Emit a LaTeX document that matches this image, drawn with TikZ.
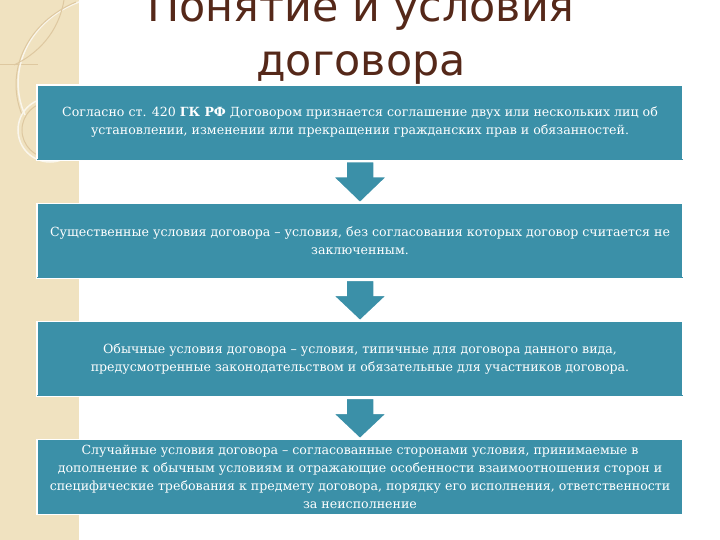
\documentclass[tikz,border=0pt]{standalone}
\usepackage{fontspec}
\setmainfont{DejaVu Serif}
\newfontfamily\titlefont{DejaVu Sans}
\usetikzlibrary{calc}
\definecolor{boxteal}{RGB}{59,144,168}
\definecolor{stripbeige}{RGB}{240,226,192}
\definecolor{decoline}{RGB}{222,200,160}
\definecolor{titlebrown}{RGB}{85,40,25}
\tikzset{
  stepbox/.style={rectangle, fill=boxteal, draw=white, line width=1.5pt,
    minimum width=646pt, minimum height=75pt, inner sep=0pt,
    text=white, align=center, font=\fontsize{12.6}{18}\selectfont},
  blockarrow/.style={fill=boxteal, draw=white, line width=1.5pt, line join=miter},
  titletext/.style={text=titlebrown, font=\titlefont\fontsize{42.8}{50}\selectfont, inner sep=0pt, anchor=base},
  deco/.style={draw=decoline, line width=1pt},
  decolight/.style={draw=white!70!stripbeige, line width=1.5pt}
}
\begin{document}
\begin{tikzpicture}[x=1pt,y=-1pt]
\useasboundingbox (0,0) rectangle (720,540);
\clip (0,0) rectangle (720,540);
\fill[white] (0,0) rectangle (720,540);
% left decorative strip
\fill[stripbeige] (0,0) rectangle (79,540);
\draw[deco] (0,65) -- (38,65);
\draw[decolight] (79,2) .. controls (30,20) and (5,70) .. (25,115);
\draw[deco] (76,2) .. controls (28,22) and (4,70) .. (22,115);
\draw[decolight] (50,130) circle (32);
\draw[deco] (50,130) circle (28);
\draw[deco] (64,0) .. controls (60,25) and (45,50) .. (14,65);
% title
\node[titletext] (t1) at (361,22) {Понятие и условия};
\node[titletext] (t2) at (361,76) {договора};
% boxes
\node[stepbox] (b1) at (360,122.5) {Согласно ст. 420 \textbf{ГК РФ} Договором признается соглашение двух или нескольких лиц об\\установлении, изменении или прекращении гражданских прав и обязанностей.};
\node[stepbox] (b2) at (360,241) {Существенные условия договора – условия, без согласования которых договор считается не\\заключенным.};
\node[stepbox] (b3) at (360,359) {Обычные условия договора – условия, типичные для договора данного вида,\\предусмотренные законодательством и обязательные для участников договора.};
\node[stepbox] (b4) at (360,477) {Случайные условия договора – согласованные сторонами условия, принимаемые в\\дополнение к обычным условиям и отражающие особенности взаимоотношения сторон и\\специфические требования к предмету договора, порядку его исполнения, ответственности\\за неисполнение};
% arrows
\foreach \a/\b in {b1/b2, b2/b3, b3/b4}{
  \draw[blockarrow] ($(\a.south)+(-14,1)$) -- ($(\a.south)+(14,1)$) -- ($(\a.south)+(14,16)$)
    -- ($(\a.south)+(27,16)$) -- ($(\b.north)+(0,0)$) -- ($(\a.south)+(-27,16)$)
    -- ($(\a.south)+(-14,16)$) -- cycle;
}
% redraw box bottoms over arrow tops
\foreach \n in {b1,b2,b3}{
  \fill[boxteal] ($(\n.south west)+(1,-2)$) rectangle ($(\n.south east)+(-1,-0.8)$);
}
\end{tikzpicture}
\end{document}
